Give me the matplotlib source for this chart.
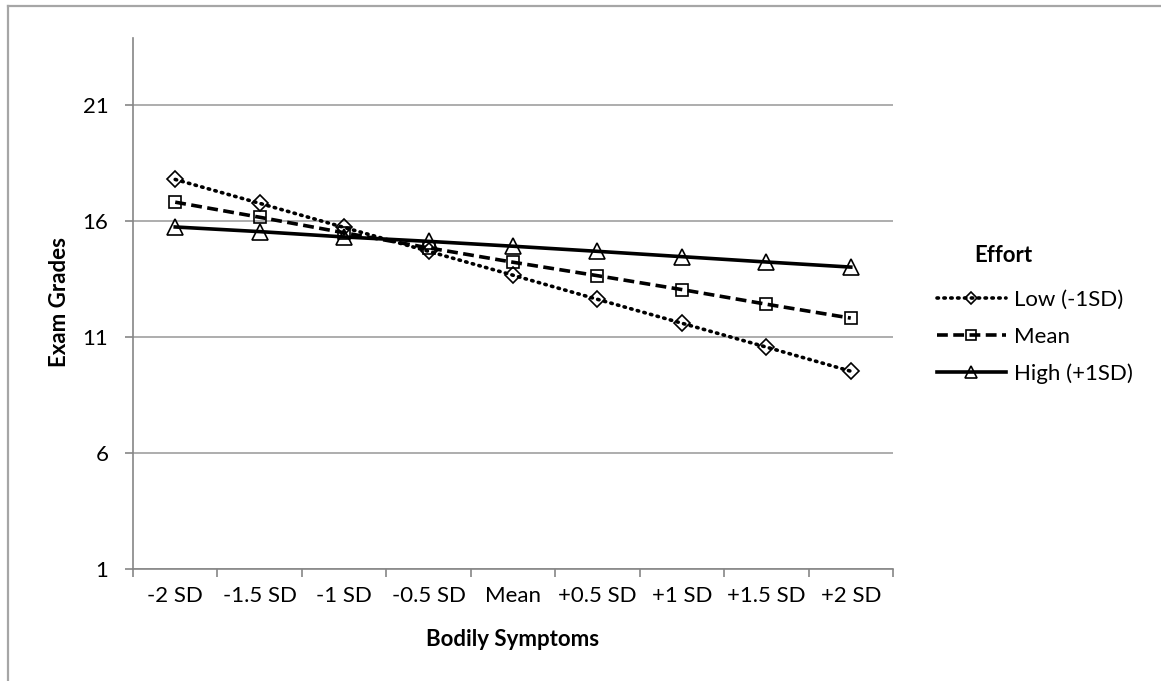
import matplotlib
matplotlib.use("Agg")
import matplotlib.pyplot as plt
import numpy as np

plt.rcParams['font.family'] = ['Lato', 'DejaVu Sans']

# categories along the x axis
categories = ["-2 SD", "-1.5 SD", "-1 SD", "-0.5 SD", "Mean",
              "+0.5 SD", "+1 SD", "+1.5 SD", "+2 SD"]

# exam grades per effort level
low_effort = [17.8, 16.77, 15.73, 14.7, 13.67, 12.63, 11.6, 10.57, 9.53]
mean_effort = [16.82, 16.17, 15.5, 14.85, 14.23, 13.65, 13.05, 12.42, 11.82]
high_effort = [15.75, 15.55, 15.32, 15.13, 14.92, 14.7, 14.47, 14.24, 14.02]

series_names = ["Low (-1SD)", "Mean", "High (+1SD)"]
yticks = [1, 6, 11, 16, 21]

W, H = 1161, 681
fig = plt.figure(figsize=(W / 100, H / 100), dpi=100)

# chart area border (only top and left edges are visible)
fig.add_artist(plt.Line2D([8 / W, 8 / W], [0, 1 - 5.5 / H], transform=fig.transFigure,
                          color="#a6a6a6", lw=1.6))
fig.add_artist(plt.Line2D([8 / W, 1], [1 - 5.5 / H, 1 - 5.5 / H], transform=fig.transFigure,
                          color="#a6a6a6", lw=1.6))

ax = fig.add_axes([133 / W, 1 - 569 / H, (893 - 133) / W, (569 - 38) / H])

x = np.arange(len(categories))
line_kw = dict(color="black", lw=2.6, markerfacecolor="none",
               markeredgecolor="black", markeredgewidth=1.2)
ax.plot(x, low_effort, linestyle=(0, (0.4, 1.5)), dash_capstyle="round",
        marker="D", markersize=8, label=series_names[0], **line_kw)
ax.plot(x, mean_effort, linestyle=(0, (3.0, 1.5)), marker="s", markersize=9,
        label=series_names[1], **line_kw)
ax.plot(x, high_effort, linestyle="-", marker="^", markersize=11,
        label=series_names[2], **line_kw)

ax.set_xlim(-0.5, len(categories) - 0.5)
ax.set_ylim(1, 23.9)
ax.set_yticks(yticks)
ax.set_xticks(x)
ax.set_xticklabels(categories)
ax.set_xticks(np.arange(len(categories) + 1) - 0.5, minor=True)
ax.tick_params(axis="x", which="major", length=0, labelsize=16, pad=12)
ax.tick_params(axis="x", which="minor", length=5.8, color="#868686", width=1.2)
ax.tick_params(axis="y", length=5.8, color="#868686", width=1.2, labelsize=16, pad=12)

ax.grid(axis="y", color="#a0a0a0", lw=1.2)
ax.set_axisbelow(True)
for side in ["top", "right"]:
    ax.spines[side].set_visible(False)
for side in ["left", "bottom"]:
    ax.spines[side].set_color("#868686")
    ax.spines[side].set_linewidth(1.2)

fig.text(59 / W, 1 - 302 / H, "Exam Grades", rotation=90, ha="center", va="center",
         fontsize=16, fontweight="bold")
fig.text(513 / W, 1 - 640 / H, "Bodily Symptoms", ha="center", va="center",
         fontsize=16, fontweight="bold")
fig.text(1003 / W, 1 - 255 / H, "Effort", ha="center", va="center",
         fontsize=16, fontweight="bold")

ax.legend(loc="center left", bbox_to_anchor=(937 / W, 1 - 337 / H),
          bbox_transform=fig.transFigure, frameon=False, fontsize=16,
          handlelength=3.1, handletextpad=0.35, labelspacing=0.75,
          borderpad=0, borderaxespad=0, markerscale=0.75)

fig.savefig("out.png", dpi=100)
